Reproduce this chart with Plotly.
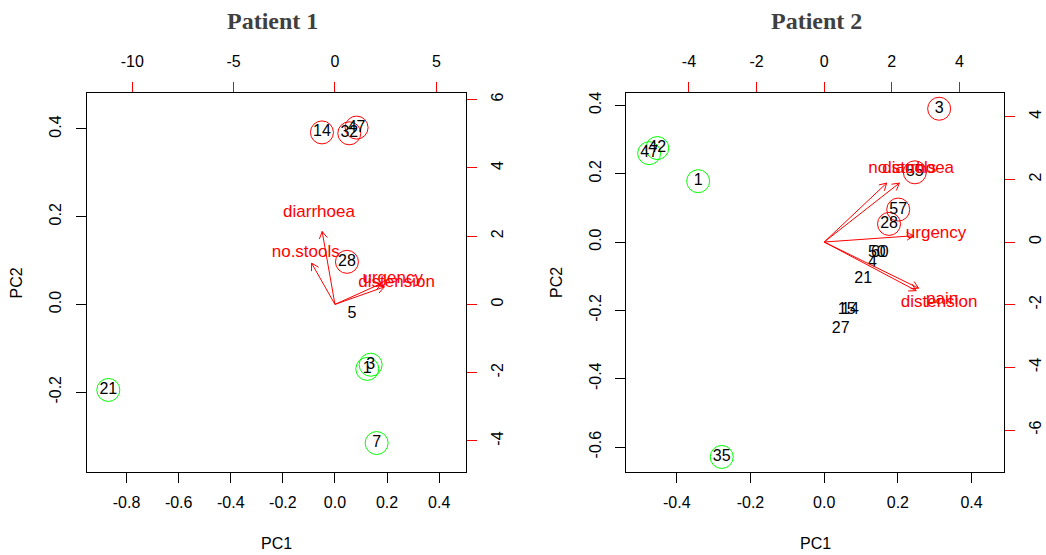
import math
import plotly.graph_objects as go

W, H = 1046, 555

# ---------------- data ----------------
# Patient 1 observations (PC scores)
p1_labels = ["14", "32", "47", "28", "5", "3", "1", "7", "21"]
p1_pc1 = [-0.050, 0.055, 0.083, 0.046, 0.065, 0.137, 0.124, 0.160, -0.870]
p1_pc2 = [0.392, 0.390, 0.403, 0.097, -0.022, -0.1375, -0.147, -0.316, -0.195]
p1_ring = ["red", "red", "red", "red", None, "green", "green", "green", "green"]
# Patient 1 variable loadings (secondary axes)
p1_vars = ["diarrhoea", "no.stools", "urgency", "distension"]
p1_load1 = [-0.79, -1.44, 2.85, 3.04]
p1_load2 = [2.67, 1.51, 0.765, 0.64]

# Patient 2 observations
p2_labels = ["3", "55", "57", "28", "50", "60", "4", "21", "15", "14", "27", "47", "42", "1", "35"]
p2_pc1 = [0.312, 0.246, 0.201, 0.176, 0.143, 0.151, 0.131, 0.106, 0.061, 0.070, 0.045, -0.475, -0.453, -0.342, -0.278]
p2_pc2 = [0.390, 0.204, 0.095, 0.053, -0.031, -0.031, -0.060, -0.109, -0.199, -0.199, -0.255, 0.260, 0.275, 0.178, -0.629]
p2_ring = ["red", "red", "red", "red", None, None, None, None, None, None, None, "green", "green", "green", "green"]
p2_vars = ["no.stools", "diarrhoea", "urgency", "distension", "pain"]
p2_load1 = [2.31, 2.78, 3.31, 3.40, 3.49]
p2_load2 = [2.35, 2.35, 0.25, -1.94, -1.84]

# tick labels
p1_xticks = [-0.8, -0.6, -0.4, -0.2, 0.0, 0.2, 0.4]
p1_yticks = [-0.2, 0.0, 0.2, 0.4]
p1_topticks = [-10, -5, 0, 5]
p1_rightticks = [-4, -2, 0, 2, 4, 6]
p2_xticks = [-0.4, -0.2, 0.0, 0.2, 0.4]
p2_yticks = [-0.6, -0.4, -0.2, 0.0, 0.2, 0.4]
p2_topticks = [-4, -2, 0, 2, 4]
p2_rightticks = [-6, -4, -2, 0, 2, 4]

# ---------------- layout geometry ----------------
FONT = "Liberation Sans"
RING = {"red": "#FF0000", "green": "#00FF00"}

panels = [
    dict(title="Patient 1", title_x=272, px=(86.7, 466.0), py=(91.7, 471.7),
         xr=(-0.953, 0.503), yr=(-0.382, 0.481), ratio=12.85,
         labels=p1_labels, pc1=p1_pc1, pc2=p1_pc2, ring=p1_ring,
         vars=p1_vars, l1=p1_load1, l2=p1_load2,
         xt=p1_xticks, yt=p1_yticks, tt=p1_topticks, rt=p1_rightticks),
    dict(title="Patient 2", title_x=816, px=(626.3, 1004.0), py=(91.7, 471.7),
         xr=(-0.537, 0.488), yr=(-0.673, 0.435), ratio=10.9,
         labels=p2_labels, pc1=p2_pc1, pc2=p2_pc2, ring=p2_ring,
         vars=p2_vars, l1=p2_load1, l2=p2_load2,
         xt=p2_xticks, yt=p2_yticks, tt=p2_topticks, rt=p2_rightticks),
]


def fmt1(v):
    return f"{v:.1f}"


def fmt0(v):
    return str(int(v))


fig = go.Figure()
layout = {}
annotations = []

for i, p in enumerate(panels):
    n = 2 * i + 1
    xa, xb = f"x{n if n > 1 else ''}", f"x{n + 1}"
    ya, yb = f"y{n if n > 1 else ''}", f"y{n + 1}"
    dom_x = [p["px"][0] / W, p["px"][1] / W]
    dom_y = [1 - p["py"][1] / H, 1 - p["py"][0] / H]
    xr2 = [p["xr"][0] * p["ratio"], p["xr"][1] * p["ratio"]]
    yr2 = [p["yr"][0] * p["ratio"], p["yr"][1] * p["ratio"]]

    tickfont = dict(family=FONT, size=16, color="black")
    common = dict(showgrid=False, zeroline=False, ticks="outside", ticklen=10,
                  tickwidth=1, tickfont=tickfont, fixedrange=True)

    layout[f"xaxis{n if n > 1 else ''}"] = dict(
        domain=dom_x, range=list(p["xr"]), anchor=ya, side="bottom",
        tickvals=p["xt"], ticktext=[fmt1(v) for v in p["xt"]],
        showline=True, linecolor="black", linewidth=1, mirror=True,
        tickcolor="black", ticklabelstandoff=6, **common)
    layout[f"yaxis{n if n > 1 else ''}"] = dict(
        domain=dom_y, range=list(p["yr"]), anchor=xa, side="left",
        tickvals=p["yt"], ticktext=[fmt1(v) for v in p["yt"]], tickangle=-90,
        showline=True, linecolor="black", linewidth=1, mirror=True,
        tickcolor="black", ticklabelstandoff=8, **common)
    layout[f"xaxis{n + 1}"] = dict(
        domain=dom_x, range=xr2, anchor=ya, overlaying=xa, side="top",
        tickvals=p["tt"], ticktext=[fmt0(v) for v in p["tt"]],
        showline=False, tickcolor="#FF0000", ticklabelstandoff=9, **common)
    layout[f"yaxis{n + 1}"] = dict(
        domain=dom_y, range=yr2, anchor=xa, overlaying=ya, side="right",
        tickvals=p["rt"], ticktext=[fmt0(v) for v in p["rt"]], tickangle=-90,
        showline=False, tickcolor="#FF0000", ticklabelstandoff=7, **common)

    # rings around selected observations
    for col in ("red", "green"):
        xs = [x for x, r in zip(p["pc1"], p["ring"]) if r == col]
        ys = [y for y, r in zip(p["pc2"], p["ring"]) if r == col]
        fig.add_trace(go.Scatter(
            x=xs, y=ys, mode="markers", xaxis=xa, yaxis=ya,
            marker=dict(symbol="circle-open", size=23, color=RING[col],
                        line=dict(width=1, color=RING[col])),
            hoverinfo="skip", showlegend=False))

    # observation labels
    fig.add_trace(go.Scatter(
        x=p["pc1"], y=p["pc2"], mode="text", text=p["labels"],
        textposition="middle center", xaxis=xa, yaxis=ya,
        textfont=dict(family=FONT, size=16, color="black"),
        hoverinfo="skip", showlegend=False))

    # variable arrows (to 0.8 * loading) with open heads
    sx = (p["px"][1] - p["px"][0]) / (xr2[1] - xr2[0])  # px per unit
    sy = (p["py"][1] - p["py"][0]) / (yr2[1] - yr2[0])
    ax_x, ax_y = [], []
    head_len = 8.0
    for l1, l2 in zip(p["l1"], p["l2"]):
        tx, ty = 0.8 * l1, 0.8 * l2
        ax_x += [0, tx, None]
        ax_y += [0, ty, None]
        dxp, dyp = tx * sx, ty * sy
        ang = math.atan2(dyp, dxp)
        for s in (1, -1):
            a = ang + math.pi + s * math.radians(30)
            hx = tx + head_len * math.cos(a) / sx
            hy = ty + head_len * math.sin(a) / sy
            ax_x += [tx, hx, None]
            ax_y += [ty, hy, None]
    fig.add_trace(go.Scatter(
        x=ax_x, y=ax_y, mode="lines", xaxis=xb, yaxis=yb,
        line=dict(color="#FF0000", width=1),
        hoverinfo="skip", showlegend=False))

    fig.add_trace(go.Scatter(
        x=p["l1"], y=p["l2"], mode="text", text=p["vars"],
        textposition="middle center", xaxis=xb, yaxis=yb,
        textfont=dict(family=FONT, size=17, color="#FF0000"),
        hoverinfo="skip", showlegend=False))

    cx = (p["px"][0] + p["px"][1]) / 2 / W
    annotations.append(dict(
        text=f"<b>{p['title']}</b>", x=p["title_x"] / W, y=1 - 19 / H,
        xref="paper", yref="paper",
        showarrow=False, xanchor="center", yanchor="middle",
        font=dict(family="Liberation Serif", size=24, color="#3f3f3f")))
    annotations.append(dict(
        text="PC1", x=cx, y=1 - 543 / H, xref="paper", yref="paper",
        showarrow=False, xanchor="center", yanchor="middle",
        font=dict(family=FONT, size=16, color="black")))
    annotations.append(dict(
        text="PC2", x=(p["px"][0] - 70) / W, y=1 - (p["py"][0] + p["py"][1]) / 2 / H,
        xref="paper", yref="paper", textangle=-90,
        showarrow=False, xanchor="center", yanchor="middle",
        font=dict(family=FONT, size=16, color="black")))

fig.update_layout(
    width=W, height=H, margin=dict(l=0, r=0, t=0, b=0),
    paper_bgcolor="white", plot_bgcolor="white",
    showlegend=False, annotations=annotations, **layout)

fig.write_html("out.html", config={"displayModeBar": False})
